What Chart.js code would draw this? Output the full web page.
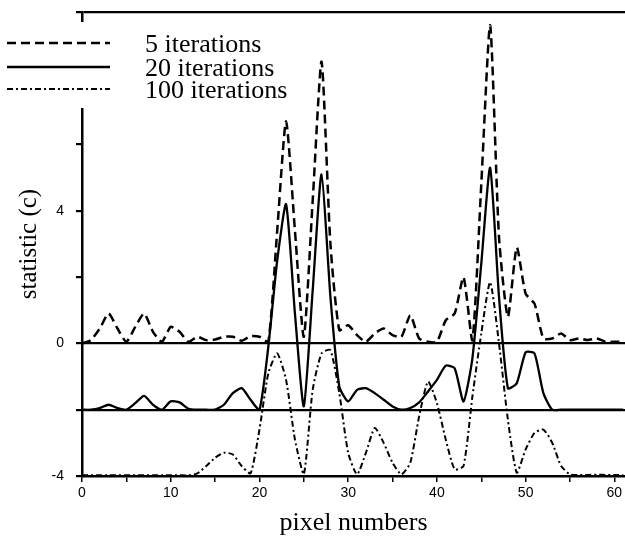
<!DOCTYPE html>
<html>
<head>
<meta charset="utf-8">
<title>statistic (c) vs pixel numbers</title>
<script src="https://cdn.jsdelivr.net/npm/chart.js@4.4.1/dist/chart.umd.min.js"></script>
<style>
  html, body { margin: 0; padding: 0; background: #fff; }
  #wrap { width: 625px; height: 541px; }
</style>
</head>
<body>
<div id="wrap"><canvas id="statChart" width="625" height="541"></canvas></div>
<script>
// x 軸：像素編號
const pixelNumbers = [
  0, 1, 2, 3, 4, 5, 6, 7, 8, 9,
  10, 11, 12, 13, 14, 15, 16, 17, 18, 19,
  20, 21, 22, 23, 24, 25, 26, 27, 28, 29,
  30, 31, 32, 33, 34, 35, 36, 37, 38, 39,
  40, 41, 42, 43, 44, 45, 46, 47, 48, 49,
  50, 51, 52, 53, 54, 55, 56, 57, 58, 59,
  60, 61
];

// 5 iterations (基線 0)
const iter5 = [
  0, 0.1, 0.45, 0.9, 0.45, 0.05, 0.5, 0.9, 0.35, 0.05,
  0.5, 0.35, 0.05, 0.2, 0.1, 0.12, 0.2, 0.2, 0.08, 0.22,
  0.2, 0.05, 3.4, 6.7, 3.4, 0.2, 4.3, 8.5, 3.0, 0.4,
  0.55, 0.25, 0.05, 0.3, 0.45, 0.25, 0.2, 0.85, 0.15, 0.05,
  0.05, 0.7, 0.9, 2.0, 0.1, 4.8, 9.6, 3.2, 0.8, 2.9,
  1.5, 1.2, 0.15, 0.15, 0.3, 0.1, 0.15, 0.1, 0.15, 0.05,
  0.05, 0.05
];

// 20 iterations (基線 -2)
const iter20 = [
  -2, -2, -1.95, -1.85, -1.95, -2, -1.8, -1.58, -1.85, -2,
  -1.75, -1.78, -1.97, -2, -2, -2, -1.85, -1.5, -1.35, -1.7,
  -2, -0.1, 2.5, 4.2, 0.9, -1.9, 1.6, 5.1, 1.4, -1.3,
  -1.75, -1.4, -1.35, -1.5, -1.7, -1.9, -2, -1.95, -1.78, -1.45,
  -1.1, -0.67, -0.75, -1.75, -0.45, 2.4, 5.3, 1.4, -1.35, -1.2,
  -0.27, -0.3, -1.5, -2, -2, -2, -2, -2, -2, -2,
  -2, -2
];

// 100 iterations (基線 -4)
const iter100 = [
  -3.98, -3.98, -3.98, -3.98, -3.98, -3.98, -3.98, -3.98, -3.98, -3.98,
  -3.98, -3.98, -3.98, -3.92, -3.7, -3.45, -3.3, -3.35, -3.7, -3.92,
  -2.6, -0.9, -0.3, -1.1, -2.9, -3.95, -1.4, -0.3, -0.2, -1.5,
  -3.3, -3.95, -3.3, -2.55, -3.0, -3.6, -3.95, -3.6, -2.2, -1.15,
  -1.8, -2.9, -3.8, -3.7, -1.6, 0.3, 1.85, 0.0, -2.3, -3.9,
  -3.2, -2.7, -2.6, -3.0, -3.7, -3.95, -3.97, -3.97, -3.96, -3.97,
  -3.97, -3.97
];

const seriesLabels = ['5 iterations', '20 iterations', '100 iterations'];
const xTickLabels = [0, 10, 20, 30, 40, 50, 60];
const yTickLabels = [-4, 0, 4];
const baselines = [0, -2, 10];

function toPoints(values) {
  return pixelNumbers.map((p, i) => ({ x: p, y: values[i] }));
}

// 圖例：白底蓋住 y 軸，左邊線樣本，右邊文字
const legendBox = {
  id: 'legendBox',
  afterDraw(chart) {
    const ctx = chart.ctx;
    const rows = [43, 67, 89];
    ctx.save();
    ctx.fillStyle = '#fff';
    ctx.fillRect(0, 22, 300, 86);
    chart.data.datasets.forEach((ds, i) => {
      const y = rows[i];
      ctx.beginPath();
      ctx.setLineDash(ds.borderDash || []);
      ctx.lineWidth = ds.borderWidth;
      ctx.strokeStyle = ds.borderColor;
      ctx.moveTo(7, y);
      ctx.lineTo(110, y);
      ctx.stroke();
      ctx.setLineDash([]);
      ctx.fillStyle = '#000';
      ctx.font = '26px "Liberation Serif", "Times New Roman", serif';
      ctx.textBaseline = 'middle';
      ctx.textAlign = 'left';
      ctx.fillText(ds.label, 145, y + 2);
    });
    ctx.restore();
  }
};

const ctx = document.getElementById('statChart').getContext('2d');
const statChart = new Chart(ctx, {
  type: 'line',
  data: {
    datasets: [
      {
        label: seriesLabels[0],
        data: toPoints(iter5),
        borderColor: '#000',
        borderWidth: 2.5,
        borderDash: [9, 5],
        pointRadius: 0,
        tension: 0.2,
        fill: false
      },
      {
        label: seriesLabels[1],
        data: toPoints(iter20),
        borderColor: '#000',
        borderWidth: 2.3,
        pointRadius: 0,
        tension: 0.2,
        fill: false
      },
      {
        label: seriesLabels[2],
        data: toPoints(iter100),
        borderColor: '#000',
        borderWidth: 2,
        borderDash: [6, 3, 2, 3],
        pointRadius: 0,
        tension: 0.2,
        fill: false
      }
    ]
  },
  options: {
    responsive: false,
    animation: false,
    layout: { padding: { top: 12, right: 0, left: 0, bottom: 0 } },
    plugins: {
      legend: { display: false },
      tooltip: { enabled: false }
    },
    scales: {
      x: {
        type: 'linear',
        min: 0,
        max: 61.2,
        border: { color: '#000', width: 2.5 },
        grid: { drawOnChartArea: false, color: '#000', tickLength: 6, lineWidth: 1.5 },
        ticks: {
          stepSize: 5,
          includeBounds: false,
          autoSkip: false,
          maxRotation: 0,
          padding: 3,
          color: '#000',
          font: { family: '"Liberation Sans", Arial, sans-serif', size: 14 },
          callback: v => xTickLabels.includes(v) ? String(v) : ''
        },
        title: {
          display: true,
          text: 'pixel numbers',
          color: '#000',
          font: { family: '"Liberation Serif", "Times New Roman", serif', size: 26 },
          padding: { top: 0, bottom: 2 }
        },
        afterFit(scale) {
          scale.height = 65;
          scale.paddingLeft = 0;
          scale.paddingRight = 0;
        }
      },
      y: {
        min: -4,
        max: 10,
        border: { color: '#000', width: 2.5 },
        grid: {
          color: c => (c.tick && baselines.includes(c.tick.value)) ? '#000' : 'rgba(0,0,0,0)',
          tickColor: '#000',
          lineWidth: 2.2,
          tickLength: 6
        },
        ticks: {
          stepSize: 2,
          autoSkip: false,
          padding: 12,
          color: '#000',
          font: { family: '"Liberation Sans", Arial, sans-serif', size: 14 },
          callback: v => yTickLabels.includes(v) ? String(v) : ''
        },
        title: {
          display: true,
          text: 'statistic (c)',
          color: '#000',
          font: { family: '"Liberation Serif", "Times New Roman", serif', size: 25 },
          padding: { top: 14, bottom: 0 }
        },
        afterFit(scale) {
          scale.width = 82;
          scale.paddingTop = 0;
          scale.paddingBottom = 0;
        }
      }
    }
  },
  plugins: [legendBox]
});
</script>
</body>
</html>
